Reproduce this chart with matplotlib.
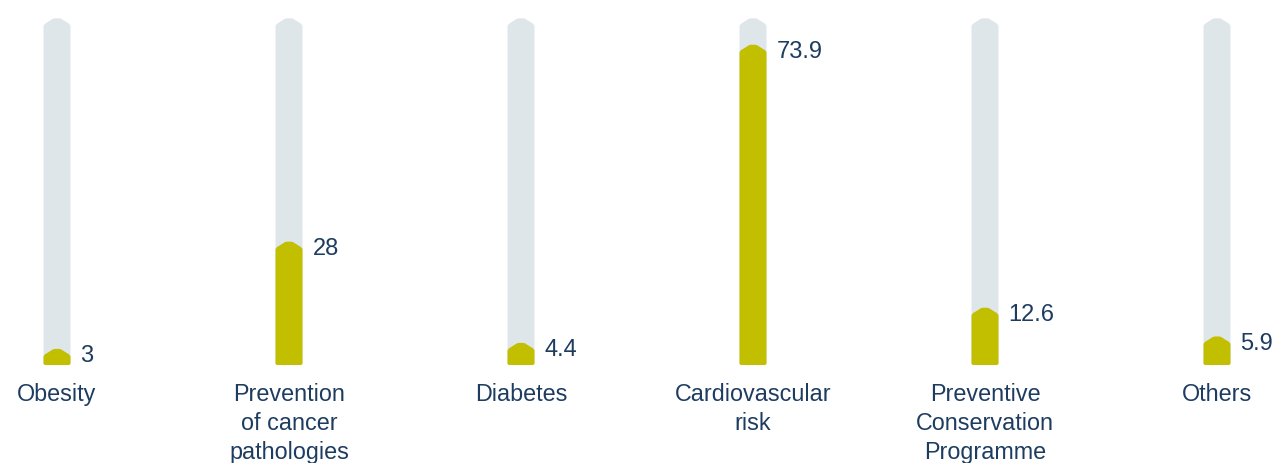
import matplotlib.pyplot as plt
from matplotlib.path import Path
from matplotlib.patches import PathPatch

categories = ["Obesity", "Prevention\nof cancer\npathologies", "Diabetes",
              "Cardiovascular\nrisk", "Preventive\nConservation\nProgramme", "Others"]
values = [3, 28, 4.4, 73.9, 12.6, 5.9]
value_labels = ["3", "28", "4.4", "73.9", "12.6", "5.9"]

TRACK = "#dfe6ea"
GREEN = "#c2bf00"
TEXT = "#1d3c60"

# pixel -> data unit helpers
PX_X = 1 / 232
PX_Y = 1 / 4.29


def capsule(x, top, half_w, color, ax):
    """bar with a peaked top, 'top' is the peak height in data units"""
    sh = top - 6.5 * PX_Y
    verts = [
        (x - half_w, 2 * PX_Y),
        (x - half_w, sh - 2.5 * PX_Y),
        (x - half_w, sh), (x - half_w + 3 * PX_X, sh + 1.2 * PX_Y),
        (x - 4 * PX_X, top - 1.2 * PX_Y),
        (x, top), (x + 4 * PX_X, top - 1.2 * PX_Y),
        (x + half_w - 3 * PX_X, sh + 1.2 * PX_Y),
        (x + half_w, sh), (x + half_w, sh - 2.5 * PX_Y),
        (x + half_w, 2 * PX_Y),
        (x + half_w, 0), (x + half_w - 2 * PX_X, 0),
        (x - half_w + 2 * PX_X, 0),
        (x - half_w, 0), (x - half_w, 2 * PX_Y),
    ]
    codes = [Path.MOVETO, Path.LINETO,
             Path.CURVE3, Path.CURVE3,
             Path.LINETO,
             Path.CURVE3, Path.CURVE3,
             Path.LINETO,
             Path.CURVE3, Path.CURVE3,
             Path.LINETO,
             Path.CURVE3, Path.CURVE3,
             Path.LINETO,
             Path.CURVE3, Path.CURVE3]
    ax.add_patch(PathPatch(Path(verts, codes), facecolor=color, edgecolor="none", lw=0))


fig = plt.figure(figsize=(12.8, 4.63), dpi=100)
ax = fig.add_axes([0, 0, 1, 1])
ax.set_xlim(-57 * PX_X, 5 + 63 * PX_X)
ax.set_ylim(-(463 - 365) * PX_Y, 365 * PX_Y)
ax.axis("off")

half_w = 13.5 * PX_X
track_top = 81
offset = 4 * PX_Y

for i, (cat, v, lab) in enumerate(zip(categories, values, value_labels)):
    capsule(i, track_top, half_w, TRACK, ax)
    peak = v + offset
    capsule(i, peak, half_w, GREEN, ax)
    ax.text(i + half_w + 10 * PX_X, peak - 8 * PX_Y, lab, ha="left", va="center",
            fontsize=17, color=TEXT, family="Liberation Sans")
    ax.text(i, -4.1, cat, ha="center", va="top", fontsize=16.8, color=TEXT,
            family="Liberation Sans", linespacing=1.35)

fig.savefig("out.png", dpi=100)
